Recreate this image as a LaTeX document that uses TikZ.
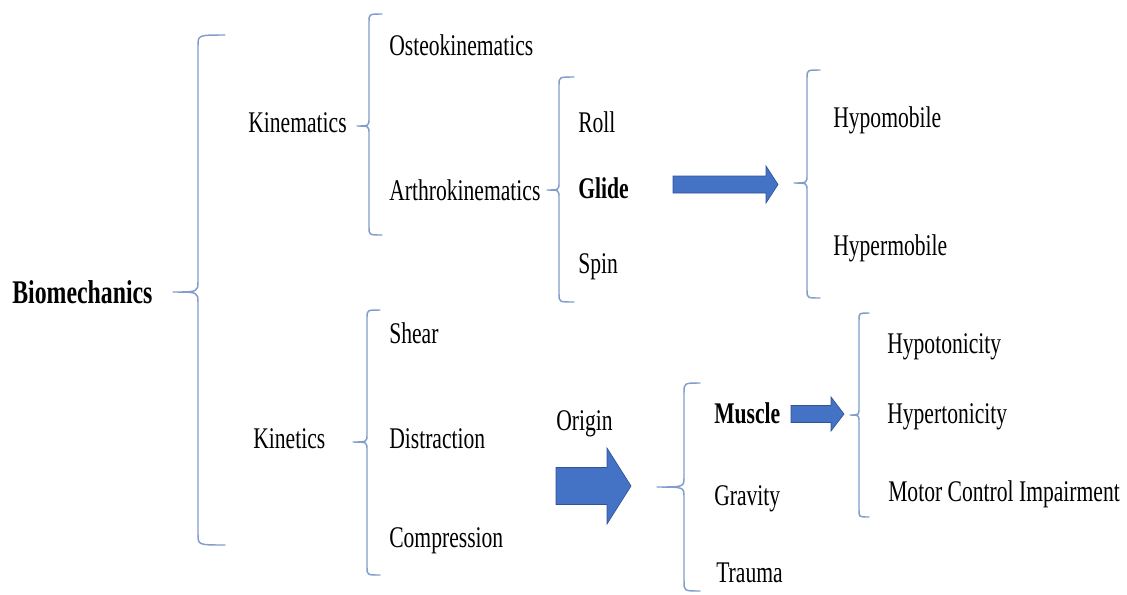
\documentclass[tikz,border=0pt]{standalone}
\usepackage{fontspec}
\setmainfont{Liberation Serif}[FakeStretch=0.72]
\definecolor{bracecol}{RGB}{130,156,205}
\definecolor{arrowfill}{RGB}{68,114,196}
\definecolor{arrowline}{RGB}{47,85,151}
\newcommand{\brc}[7]{% hookx, top, bottom, spine, tipx, tipy, r
  \draw[bracestyle] (#1,#2) .. controls (#4,#2) .. (#4,{#2+#7})
    -- (#4,{#6-#7}) .. controls (#4,#6) .. (#5,#6)
    .. controls (#4,#6) .. (#4,{#6+#7})
    -- (#4,{#3-#7}) .. controls (#4,#3) .. (#1,#3);}
\newcommand{\blkarrow}[7]{% tailx, cy, bodyhalf, headx, headhalf, tipx, name
  \filldraw[blockarrow] (#1,{#2-#3}) -- (#4,{#2-#3}) -- (#4,{#2-#5}) -- (#6,#2)
    -- (#4,{#2+#5}) -- (#4,{#2+#3}) -- (#1,{#2+#3}) -- cycle;}
\begin{document}
\begin{tikzpicture}[x=0.75pt,y=-0.75pt,
  lbl/.style={anchor=base west,inner sep=0pt,font=\fontsize{22.5}{27}\selectfont},
  blbl/.style={lbl,font=\fontsize{22.5}{27}\selectfont\bfseries},
  bracestyle/.style={draw=bracecol,line width=1.1pt,line cap=round,line join=round},
  blockarrow/.style={fill=arrowfill,draw=arrowline,line width=0.5pt}]
\useasboundingbox (0,0) rectangle (1127,594);
% texts
\node[blbl,font=\fontsize{24.8}{29}\selectfont\bfseries] (bio) at (12,303) {Biomechanics};
\node[lbl] (kinem) at (248,132) {Kinematics};
\node[lbl] (kinet) at (253,448) {Kinetics};
\node[lbl] (osteo) at (389,55) {Osteokinematics};
\node[lbl] (arthro) at (389,200) {Arthrokinematics};
\node[lbl] (shear) at (389,343) {Shear};
\node[lbl] (distr) at (389,448) {Distraction};
\node[lbl] (compr) at (389,547) {Compression};
\node[lbl] (roll) at (578,132) {Roll};
\node[blbl] (glide) at (578,198) {Glide};
\node[lbl] (spin) at (578,273) {Spin};
\node[lbl] (hypom) at (833,127) {Hypomobile};
\node[lbl] (hyperm) at (833,255) {Hypermobile};
\node[lbl] (origin) at (556,430) {Origin};
\node[blbl] (muscle) at (714,423) {Muscle};
\node[lbl] (gravity) at (714,505) {Gravity};
\node[lbl] (trauma) at (716,582) {Trauma};
\node[lbl] (hypot) at (887,353) {Hypotonicity};
\node[lbl] (hypert) at (887,423) {Hypertonicity};
\node[lbl] (motor) at (888,501) {Motor Control Impairment};
% braces
\brc{225}{35}{545}{198}{173}{292}{11}
\brc{382}{14}{235}{369}{357}{126}{8}
\brc{574}{77}{302}{559}{547}{190}{8}
\brc{820}{70}{298}{807}{794}{183}{8}
\brc{380}{310}{575}{367}{353}{442}{8}
\brc{700}{383}{591}{684}{657}{487}{10}
\brc{869}{313}{517}{859}{850}{415}{7}
% block arrows
\blkarrow{673}{184.5}{8.5}{766}{18.5}{778}{a1}
\blkarrow{556}{486}{18.5}{607}{38}{631}{a2}
\blkarrow{791}{414}{8.5}{831}{17}{844}{a3}
\end{tikzpicture}
\end{document}
